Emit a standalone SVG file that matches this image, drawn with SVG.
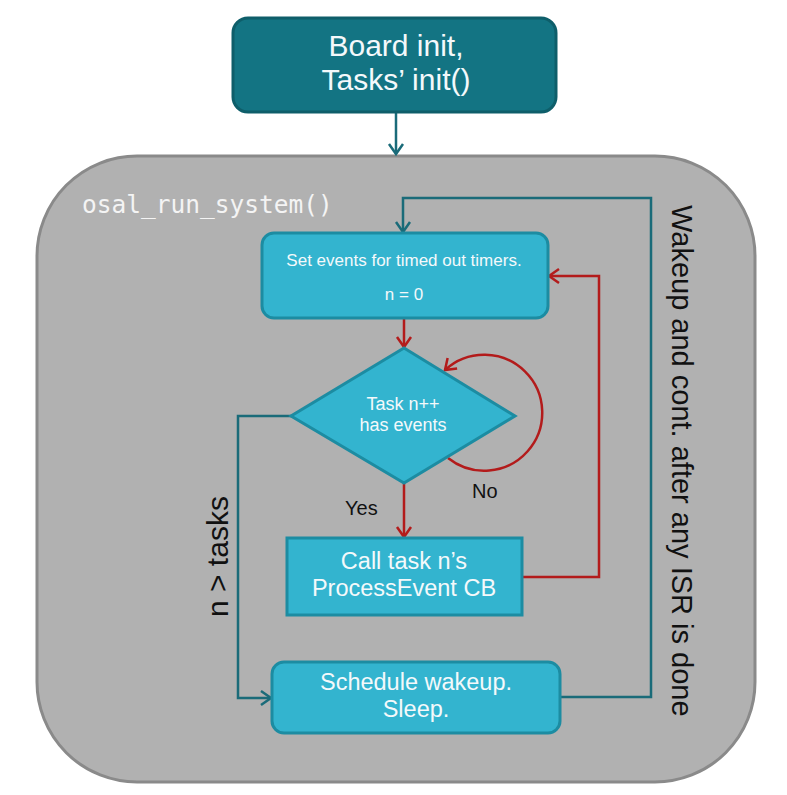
<svg xmlns="http://www.w3.org/2000/svg" width="787" height="795" viewBox="0 0 787 795">
<style>
.panel{fill:#b1b1b1;stroke:#8a8a8a;stroke-width:3}
.dark{fill:#137483;stroke:#0e5e6a;stroke-width:3}
.cyan{fill:#33b4cf;stroke:#1c8ca2;stroke-width:3}
.wt{font-family:"Liberation Sans",Arial,sans-serif;fill:#f4f9fb;text-anchor:middle}
.bk{font-family:"Liberation Sans",Arial,sans-serif;fill:#111;}
.red{fill:none;stroke:#b31b1b;stroke-width:2.5}
.teal{fill:none;stroke:#1a6b79;stroke-width:2.5}
</style>
<defs>
<marker id="ar" markerUnits="userSpaceOnUse" markerWidth="14" markerHeight="18" refX="11" refY="8" orient="auto" viewBox="0 0 14 16">
<path d="M1,1 L11,8 L1,15" fill="none" stroke="#b31b1b" stroke-width="2.5"/>
</marker>
<marker id="at" markerUnits="userSpaceOnUse" markerWidth="14" markerHeight="18" refX="11" refY="8" orient="auto" viewBox="0 0 14 16">
<path d="M1,1 L11,8 L1,15" fill="none" stroke="#1a6b79" stroke-width="2.5"/>
</marker>
</defs>
<rect width="787" height="795" fill="#ffffff"/>
<g id="panel">
<rect class="panel" x="37" y="156" width="718" height="626" rx="100" ry="100"/>
<text x="82" y="213" font-family="'DejaVu Sans Mono','Liberation Mono',monospace" font-size="24.5" fill="#f4f4f4">osal_run_system()</text>
</g>
<g id="connectors">
<path class="teal" d="M396,113 V154" marker-end="url(#at)"/>
<path class="red" d="M404,319 V347" marker-end="url(#ar)"/>
<path class="red" d="M404,483 V537" marker-end="url(#ar)"/>
<path class="red" d="M522,577 H599 V276 H549" marker-end="url(#ar)"/>
<path class="red" d="M448,458 A58,58 0 1 0 445,370" marker-end="url(#ar)"/>
<path class="teal" d="M291,416 H238 V698 H271" marker-end="url(#at)"/>
<path class="teal" d="M560,697 H651 V198 H403 V232" marker-end="url(#at)"/>
</g>
<g id="init">
<rect class="dark" x="233" y="18" width="323" height="94" rx="15" ry="15"/>
<text class="wt" x="396" y="56" font-size="30">Board init,</text>
<text class="wt" x="396" y="90" font-size="30">Tasks’ init()</text>
</g>
<g id="setevents">
<rect class="cyan" x="262" y="233" width="286" height="85" rx="12" ry="12"/>
<text class="wt" x="404" y="266" font-size="17">Set events for timed out timers.</text>
<text class="wt" x="404" y="300" font-size="17">n = 0</text>
</g>
<g id="decision">
<polygon class="cyan" points="404,348 515,416 404,483 291,416"/>
<text class="wt" x="403" y="410" font-size="18">Task n++</text>
<text class="wt" x="403" y="431" font-size="18">has events</text>
</g>
<g id="calltask">
<rect class="cyan" x="287" y="538" width="235" height="77"/>
<text class="wt" x="404" y="569" font-size="23.5">Call task n’s</text>
<text class="wt" x="404" y="596" font-size="23.5">ProcessEvent CB</text>
</g>
<g id="schedule">
<rect class="cyan" x="272" y="662" width="288" height="71" rx="12" ry="12"/>
<text class="wt" x="416" y="690" font-size="23.5">Schedule wakeup.</text>
<text class="wt" x="416" y="717" font-size="23.5">Sleep.</text>
</g>
<g id="labels">
<text class="bk" x="345" y="515" font-size="20">Yes</text>
<text class="bk" x="472" y="498" font-size="20">No</text>
<text class="bk" font-size="30" transform="translate(228,617) rotate(-90)">n &gt; tasks</text>
<text class="bk" font-size="29" transform="translate(672,205) rotate(90)">Wakeup and cont. after any ISR is done</text>
</g>
</svg>
